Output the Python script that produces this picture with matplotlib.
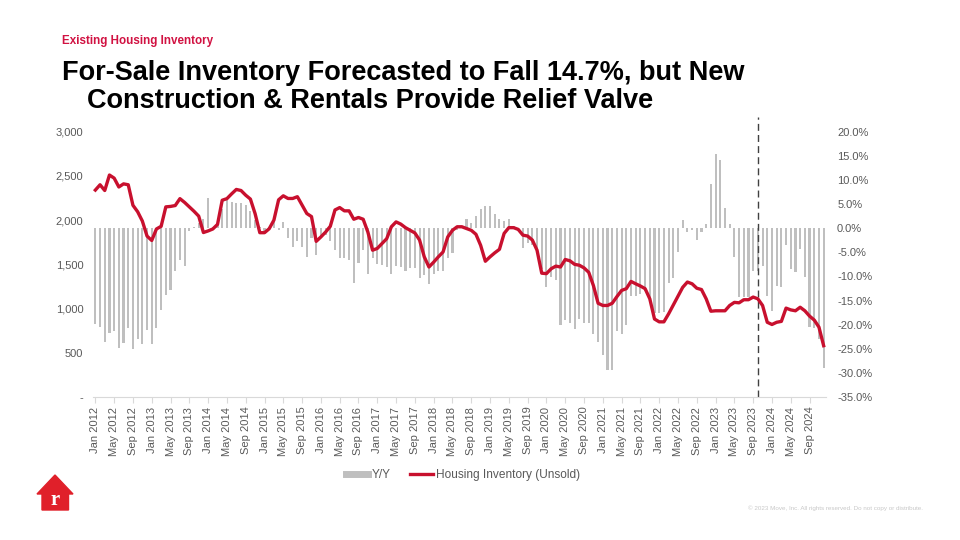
import matplotlib
matplotlib.use("Agg")
import matplotlib.pyplot as plt
from matplotlib.lines import Line2D
from matplotlib.patches import Polygon
import numpy as np
import pandas as pd

plt.rcParams['font.family'] = ['Liberation Sans', 'DejaVu Sans']

# monthly, Jan 2012 - Dec 2024
months = pd.date_range('2012-01-01', periods=156, freq='MS')
month_labels = [m.strftime('%b %Y') for m in months]

# Housing inventory (unsold), thousands - left axis
inventory = [
    2340, 2400, 2335, 2510, 2475, 2375, 2410, 2400, 2168, 2095, 1990, 1820,  # 2012
    1770, 1900, 1930, 2150, 2155, 2165, 2243, 2200, 2150, 2100, 2045, 1860,  # 2013
    1878, 1900, 1952, 2225, 2243, 2297, 2347, 2335, 2282, 2238, 2073, 1858,  # 2014
    1858, 1903, 2000, 2230, 2275, 2245, 2245, 2265, 2170, 2075, 2040, 1760,  # 2015
    1810, 1865, 1930, 2115, 2142, 2105, 2105, 2010, 2030, 2010, 1865, 1660,  # 2016
    1680, 1735, 1790, 1925, 1980, 1955, 1915, 1885, 1855, 1775, 1585, 1470,  # 2017
    1525, 1585, 1640, 1810, 1885, 1925, 1925, 1905, 1885, 1840, 1715, 1535,  # 2018
    1585, 1630, 1670, 1850, 1915, 1915, 1895, 1830, 1820, 1775, 1660, 1400,  # 2019
    1395, 1450, 1480, 1470, 1555, 1540, 1500, 1490, 1460, 1410, 1260, 1060,  # 2020
    1035, 1035, 1060, 1135, 1205, 1225, 1307, 1280, 1255, 1225, 1110, 882,   # 2021
    850, 850, 940, 1040, 1140, 1240, 1300, 1280, 1230, 1215, 1110, 970,      # 2022
    975, 975, 975, 1035, 1070, 1065, 1100, 1100, 1130, 1110, 1035, 845,      # 2023
    820, 845, 855, 1005, 985, 975, 1015, 975, 915, 870, 790, 580,            # 2024
]

# Y/Y change, percent - right axis
yoy = [
    -19.9, -20.4, -23.5, -21.8, -21.3, -24.9, -23.9, -20.6, -25.1, -23.0, -24.0, -21.1,
    -24.0, -20.7, -16.9, -13.9, -12.8, -8.9, -6.6, -7.9, -0.5, 0.3, 1.0, 1.8,
    6.3, 0.2, 0.8, 4.0, 5.9, 5.5, 5.2, 5.3, 4.8, 3.5, 1.6, 0.3,
    -0.5, 0.2, 1.2, -0.4, 1.2, -2.0, -4.0, -2.6, -4.0, -5.9, -2.1, -5.5,
    -1.8, -1.5, -2.6, -4.6, -6.2, -6.2, -6.6, -11.4, -7.3, -4.6, -9.5, -6.1,
    -7.5, -7.6, -8.1, -9.5, -7.9, -8.1, -8.9, -8.2, -8.3, -10.4, -9.8, -11.6,
    -9.5, -8.8, -8.8, -6.2, -5.2, -0.3, 0.5, 1.9, 1.0, 2.6, 4.0, 4.6,
    4.5, 3.0, 1.8, 1.4, 1.9, 0.5, -0.5, -4.2, -3.1, -3.5, -4.5, -8.5,
    -12.1, -10.2, -10.7, -20.1, -19.0, -19.7, -20.9, -18.8, -19.7, -19.7, -22.0, -23.7,
    -26.3, -29.5, -29.5, -21.3, -22.0, -20.1, -14.0, -14.1, -13.7, -13.0, -15.0, -17.5,
    -17.6, -17.3, -11.4, -10.4, -5.0, 1.6, -0.8, -0.4, -2.4, -0.8, 0.8, 9.1,
    15.3, 14.1, 4.2, 0.9, -6.0, -14.3, -14.3, -14.3, -8.8, -8.8, -7.8, -14.0,
    -17.1, -11.9, -12.1, -3.4, -8.4, -9.1, -4.4, -10.1, -20.5, -20.6, -22.9, -28.9,
]

forecast_start = 141  # Oct 2023

left_ticks = [0, 500, 1000, 1500, 2000, 2500, 3000]
right_ticks = [-35, -30, -25, -20, -15, -10, -5, 0, 5, 10, 15, 20]

GRAY_TXT = '#595959'
BAR = '#BFBFBF'
RED = '#C8102E'

fig = plt.figure(figsize=(9.6, 5.4), dpi=100)
ax = fig.add_axes([93 / 960, 1 - 397 / 540, 733 / 960, (397 - 131.7) / 540])
ax2 = ax.twinx()

x = np.arange(len(months))

# bars on the bottom axes, their scale on the right
ax.bar(x, yoy, width=0.45, color=BAR, zorder=1)
ax.set_ylim(-35, 20)
ax.set_xlim(-0.5, 155.5)
ax.yaxis.tick_right()
ax.set_yticks(right_ticks)
ax.set_yticklabels([f'{v:.1f}%' for v in right_ticks])
ax.tick_params(axis='y', which='both', left=False, labelleft=False, right=False,
               labelright=True, length=0, pad=8, labelsize=8, labelcolor=GRAY_TXT)

ax.set_xticks(x[::4])
ax.set_xticklabels(month_labels[::4], rotation=90)
ax.tick_params(axis='x', length=4, color='#D9D9D9', pad=3, labelsize=8, labelcolor=GRAY_TXT)

for s in ['top', 'left', 'right']:
    ax.spines[s].set_visible(False)
ax.spines['bottom'].set_color('#D9D9D9')

# forecast divider
ax.axvline(forecast_start, ymin=0, ymax=1.055, color='#404040', lw=1,
           ls=(0, (5, 3)), clip_on=False, zorder=2)

# line on twin axes, its scale on the left
ax2.plot(x, inventory, color=RED, lw=2.4, solid_joinstyle='round', zorder=3)
ax2.set_ylim(0, 3000)
ax2.set_yticks(left_ticks)
ax2.set_yticklabels(['-' if v == 0 else f'{v:,}' for v in left_ticks])
ax2.tick_params(axis='y', left=False, labelleft=True, right=False, labelright=False,
                length=0, pad=7, labelsize=8, labelcolor=GRAY_TXT)
for s in ax2.spines.values():
    s.set_visible(False)

# legend
handles = [Line2D([], [], color=BAR, lw=5),
           Line2D([], [], color=RED, lw=2.4)]
leg = fig.legend(handles, ['Y/Y', 'Housing Inventory (Unsold)'], loc='center',
                 bbox_to_anchor=(463 / 960, 1 - 475 / 540), ncol=2, frameon=False,
                 fontsize=8.6, handlelength=1.9, handletextpad=0.3, columnspacing=1.6)
for t in leg.get_texts():
    t.set_color(GRAY_TXT)

# titles
fig.text(62 / 960, 1 - 44 / 540, 'Existing Housing Inventory', color='#D11242',
         fontsize=8.4, fontweight='bold', va='baseline')
fig.text(62 / 960, 1 - 80 / 540, 'For-Sale Inventory Forecasted to Fall 14.7%, but New',
         fontsize=19.5, fontweight='bold', color='black', va='baseline')
fig.text(87 / 960, 1 - 108 / 540, 'Construction & Rentals Provide Relief Valve',
         fontsize=19.5, fontweight='bold', color='black', va='baseline')

# logo
house = [(55, 475), (73, 494), (68.5, 494), (68.5, 510), (42, 510), (42, 494), (37, 494)]
fig.patches.append(Polygon([(px / 960, 1 - py / 540) for px, py in house], closed=True,
                           transform=fig.transFigure, color='#E0202A'))
fig.text(55.5 / 960, 1 - 500 / 540, 'r', color='white', fontsize=15, fontweight='bold',
         family='Liberation Serif', ha='center', va='center')

fig.text(923 / 960, 1 - 508 / 540,
         '\u00a9 2023 Move, Inc. All rights reserved. Do not copy or distribute.',
         color='#C8C8C8', fontsize=4.5, ha='right', va='center')

fig.savefig('out.png', dpi=100)
